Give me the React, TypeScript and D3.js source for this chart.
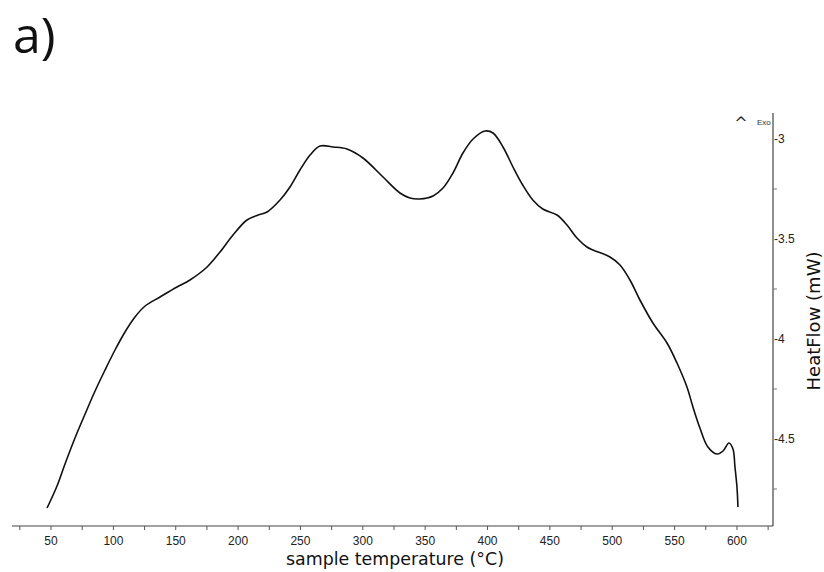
import { useEffect, useRef } from 'react';
import * as d3 from 'd3';

// DSC curve
const temperature = [
    46.8, 54.8, 61.2, 69.2, 77.3, 85.3, 93.3, 101.3, 109.3, 117.3, 125.4,
    137.4, 151.0, 161.4, 175.1, 185.5, 195.9, 207.1, 216.0, 223.2, 233.6, 241.6,
    249.6, 257.7, 265.7, 276.1, 287.3, 300.1, 316.2, 329.8, 337.8, 345.8, 356.3,
    364.3, 372.3, 380.3, 388.4, 398.0, 404.4, 412.4, 420.4, 428.2, 436.3, 444.3,
    455.7, 463.7, 471.7, 479.7, 484.5, 498.2, 506.2, 514.2, 522.2, 532.6, 543.9,
    551.9, 559.9, 564.7, 570.3, 576.7, 584.0, 588.8, 593.6, 596.8, 598.4, 600.0, 600.8,
];
const heatFlow = [
    -4.845, -4.735, -4.625, -4.495, -4.375, -4.26, -4.155, -4.055, -3.965, -3.89, -3.835,
    -3.79, -3.74, -3.705, -3.64, -3.565, -3.48, -3.405, -3.38, -3.365, -3.305, -3.24,
    -3.155, -3.08, -3.035, -3.04, -3.05, -3.095, -3.19, -3.27, -3.295, -3.30, -3.285,
    -3.245, -3.17, -3.07, -3.0, -2.96, -2.97, -3.04, -3.14, -3.23, -3.305, -3.35,
    -3.38, -3.43, -3.495, -3.54, -3.555, -3.59, -3.63, -3.705, -3.805, -3.92, -4.02,
    -4.12, -4.24, -4.34, -4.445, -4.54, -4.575, -4.56, -4.52, -4.55, -4.64, -4.74, -4.84,
];

const xTicks = d3.range(25, 626, 25);
const xLabels = [50, 100, 150, 200, 250, 300, 350, 400, 450, 500, 550, 600];
const yLabels = [-3, -3.5, -4, -4.5];
const yMinor = [-3.25, -3.75, -4.25, -4.75];

const App = () => {
    const chartRef = useRef<SVGSVGElement | null>(null);

    useEffect(() => {
        const width = 824;
        const height = 572;
        const left = 12;
        const right = 773;
        const top = 113;
        const bottom = 526;

        const svg = d3.select(chartRef.current);
        svg.selectAll('*').remove();

        const x = d3.scaleLinear().domain([18.7, 628.9]).range([left, right]);
        const y = d3.scaleLinear().domain([-4.935, -2.87]).range([bottom, top]);

        svg.attr('width', width).attr('height', height).attr('viewBox', [0, 0, width, height]);

        svg.append('text')
            .attr('x', 13)
            .attr('y', 53)
            .attr('font-family', 'Open Sans')
            .attr('font-size', 50)
            .attr('fill', '#111')
            .text('a)');

        // axes lines
        svg.append('line')
            .attr('x1', left).attr('x2', right)
            .attr('y1', bottom).attr('y2', bottom)
            .attr('stroke', '#444').attr('stroke-width', 1.2);
        svg.append('line')
            .attr('x1', right).attr('x2', right)
            .attr('y1', top).attr('y2', bottom)
            .attr('stroke', '#444').attr('stroke-width', 1.2);

        svg.append('g')
            .selectAll('line')
            .data(xTicks)
            .join('line')
            .attr('x1', d => x(d)).attr('x2', d => x(d))
            .attr('y1', bottom).attr('y2', bottom + 4)
            .attr('stroke', '#555');

        svg.append('g')
            .attr('font-family', 'Liberation Sans, Arial, sans-serif')
            .attr('font-size', 12)
            .attr('fill', '#222')
            .attr('text-anchor', 'middle')
            .selectAll('text')
            .data(xLabels)
            .join('text')
            .attr('x', d => x(d))
            .attr('y', 545)
            .text(d => d);

        svg.append('g')
            .selectAll('line')
            .data(yMinor)
            .join('line')
            .attr('x1', right).attr('x2', right + 4)
            .attr('y1', d => y(d)).attr('y2', d => y(d))
            .attr('stroke', '#777');

        svg.append('g')
            .attr('font-family', 'Liberation Sans, Arial, sans-serif')
            .attr('font-size', 12)
            .attr('fill', '#222')
            .selectAll('text')
            .data(yLabels)
            .join('text')
            .attr('x', right + 1)
            .attr('y', d => y(d))
            .attr('dy', '0.35em')
            .text(d => d);

        svg.append('text')
            .attr('x', 741)
            .attr('y', 128)
            .attr('text-anchor', 'middle')
            .attr('font-family', 'DejaVu Sans')
            .attr('font-size', 16)
            .attr('fill', '#222')
            .text('^');
        svg.append('text')
            .attr('x', 757)
            .attr('y', 125)
            .attr('font-family', 'Liberation Sans, Arial, sans-serif')
            .attr('font-size', 8)
            .attr('fill', '#333')
            .text('Exo');

        svg.append('text')
            .attr('x', 395)
            .attr('y', 565)
            .attr('text-anchor', 'middle')
            .attr('font-family', 'DejaVu Sans')
            .attr('font-size', 17.4)
            .attr('fill', '#111')
            .text('sample temperature (°C)');

        svg.append('text')
            .attr('transform', 'translate(820,321) rotate(-90)')
            .attr('text-anchor', 'middle')
            .attr('font-family', 'DejaVu Sans')
            .attr('font-size', 18)
            .attr('fill', '#111')
            .text('HeatFlow (mW)');

        const line = d3.line<number>()
            .x((d, i) => x(temperature[i]))
            .y(d => y(d))
            .curve(d3.curveCatmullRom.alpha(0.5));

        svg.append('path')
            .datum(heatFlow)
            .attr('fill', 'none')
            .attr('stroke', '#111')
            .attr('stroke-width', 1.6)
            .attr('stroke-linejoin', 'round')
            .attr('d', line);
    }, []);

    return <svg ref={chartRef} style={{ position: 'absolute', left: 0, top: 0, background: '#fff' }} />;
};

export default App;
